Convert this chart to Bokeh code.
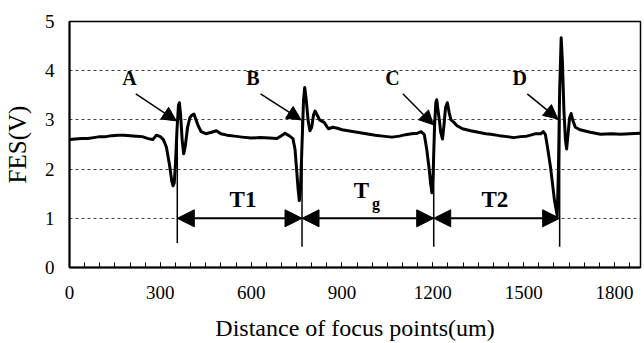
from bokeh.plotting import figure
from bokeh.models import Range1d, FixedTicker, Arrow, NormalHead
from bokeh.core.properties import value
from bokeh.embed import file_html
from bokeh.resources import INLINE

# FES signal (distance in um, voltage in V)
dist = [0, 20, 40, 60, 80, 100, 120, 140, 160, 180, 200, 220, 240, 260, 275, 287, 300, 310,
        320, 330, 338, 342, 346, 350, 355, 360, 363, 367, 372, 377, 382, 390, 398, 405, 411,
        418, 425, 435, 450, 470, 485, 500, 520, 545, 570, 600, 630, 660, 685, 700, 712, 725,
        738, 745, 750, 755, 759, 763, 768, 773, 777, 782, 788, 794, 800, 806, 811, 818, 826,
        841, 855, 870, 885, 900, 920, 950, 980, 1010, 1035, 1065, 1090, 1110, 1130, 1150, 1162,
        1172, 1180, 1188, 1193, 1197, 1201, 1206, 1210, 1213, 1217, 1222, 1226, 1232, 1237,
        1242, 1248, 1254, 1260, 1268, 1280, 1298, 1325, 1350, 1375, 1391, 1420, 1445, 1467,
        1490, 1510, 1523, 1540, 1556, 1565, 1572, 1580, 1589, 1602, 1611, 1615, 1619, 1624,
        1628, 1633, 1638, 1642, 1648, 1652, 1657, 1662, 1671, 1686, 1720, 1754, 1790, 1820,
        1850, 1886]
fes = [2.60, 2.61, 2.62, 2.62, 2.64, 2.66, 2.66, 2.68, 2.69, 2.69, 2.68, 2.67, 2.66, 2.62, 2.60,
       2.69, 2.66, 2.60, 2.45, 2.10, 1.75, 1.66, 1.72, 2.10, 2.80, 3.30, 3.35, 3.10, 2.60, 2.31,
       2.45, 2.85, 3.05, 3.10, 3.12, 3.00, 2.88, 2.76, 2.72, 2.75, 2.78, 2.72, 2.69, 2.67, 2.65,
       2.63, 2.64, 2.63, 2.62, 2.68, 2.73, 2.68, 2.62, 2.40, 2.00, 1.60, 1.36, 1.60, 2.50, 3.40,
       3.66, 3.40, 3.00, 2.78, 2.85, 3.10, 3.18, 3.10, 3.00, 2.95, 2.82, 2.85, 2.83, 2.80, 2.78,
       2.75, 2.72, 2.69, 2.67, 2.65, 2.67, 2.70, 2.72, 2.73, 2.76, 2.70, 2.40, 2.00, 1.70, 1.52,
       1.90, 2.90, 3.35, 3.41, 3.20, 2.98, 2.75, 2.61, 2.90, 3.25, 3.35, 3.15, 3.00, 2.96, 2.88,
       2.82, 2.78, 2.75, 2.72, 2.71, 2.68, 2.66, 2.64, 2.66, 2.67, 2.69, 2.72, 2.72, 2.76, 2.70,
       2.40, 2.03, 1.36, 1.05, 2.00, 3.60, 4.67, 4.20, 3.20, 2.60, 2.41, 2.80, 3.05, 3.13, 3.00,
       2.85, 2.80, 2.75, 2.71, 2.72, 2.71, 2.72, 2.73]

# event markers A-D
marker_names = ["A", "B", "C", "D"]
marker_x = [356, 768, 1203, 1619]
marker_bottom = [0.50, 0.42, 0.42, 0.42]
marker_top = [3.0, 3.0, 3.0, 3.0]
name_x = [198, 606, 1067, 1487]
name_y = [3.86, 3.86, 3.86, 3.86]
pointer_from_x = [219, 631, 1101, 1512]
pointer_from_y = [3.53, 3.53, 3.53, 3.53]
pointer_to_x = [353, 765, 1202, 1613]
pointer_to_y = [2.98, 3.0, 2.9, 3.02]

# interval labels
interval_y = 1.0
t_labels = ["T1", "T", "T2"]
t_x = [573, 964, 1405]
t_y = [1.39, 1.56, 1.38]
sub_label = ["g"]
sub_x = [1012]
sub_y = [1.31]

x_ticks = [0, 300, 600, 900, 1200, 1500, 1800]
y_ticks = [0, 1, 2, 3, 4, 5]

FONT = "Liberation Serif"

p = figure(width=644, height=343, output_backend="svg", toolbar_location=None,
           x_range=Range1d(0, 1886), y_range=Range1d(0, 5),
           min_border_left=68, min_border_right=4, min_border_top=21, min_border_bottom=76)
p.background_fill_color = "white"
p.border_fill_color = "white"
p.outline_line_color = "black"
p.outline_line_width = 1.5

p.xaxis.ticker = FixedTicker(ticks=x_ticks, minor_ticks=list(range(0, 1900, 50)))
p.yaxis.ticker = FixedTicker(ticks=y_ticks)
p.xgrid.visible = False
p.ygrid.grid_line_color = "#444444"
p.ygrid.grid_line_dash = "3 3"
p.ygrid.grid_line_width = 1

for ax in (p.xaxis[0], p.yaxis[0]):
    ax.axis_line_color = "black"
    ax.axis_line_width = 2
    ax.major_label_text_font = FONT
    ax.major_label_text_font_size = "19px"
    ax.major_label_text_color = "black"
    ax.axis_label_text_font = FONT
    ax.axis_label_text_font_style = "normal"
    ax.axis_label_text_color = "black"

p.xaxis.major_tick_in = 5
p.xaxis.major_tick_out = 0
p.xaxis.minor_tick_in = 5
p.xaxis.minor_tick_out = 0
p.xaxis.major_tick_line_color = "black"
p.xaxis.minor_tick_line_color = "black"
p.xaxis.major_label_standoff = 18
p.xaxis.axis_label = "Distance of focus points(um)"
p.xaxis.axis_label_text_font_size = "24px"
p.xaxis.axis_label_standoff = 13

p.yaxis.major_tick_in = 0
p.yaxis.major_tick_out = 0
p.yaxis.minor_tick_line_color = None
p.yaxis.major_label_standoff = 15
p.yaxis.axis_label = "FES(V)"
p.yaxis.axis_label_text_font_size = "25px"
p.yaxis.axis_label_standoff = 11

# signal
p.line(dist, fes, line_color="black", line_width=3, line_join="round")

# vertical marker lines
p.segment(x0=marker_x, y0=marker_bottom, x1=marker_x, y1=marker_top,
          line_color="black", line_width=1.5)

# pointer arrows
for x0, y0, x1, y1 in zip(pointer_from_x, pointer_from_y, pointer_to_x, pointer_to_y):
    p.add_layout(Arrow(end=NormalHead(size=14, fill_color="black", line_color="black"),
                       x_start=x0, y_start=y0, x_end=x1, y_end=y1,
                       line_color="black", line_width=1.5))

# interval double arrows
for a, b in zip(marker_x[:-1], marker_x[1:]):
    p.add_layout(Arrow(start=NormalHead(size=17, fill_color="black", line_color="black"),
                       end=NormalHead(size=17, fill_color="black", line_color="black"),
                       x_start=a, y_start=interval_y, x_end=b, y_end=interval_y,
                       line_color="black", line_width=2))

p.text(x=name_x, y=name_y, text=marker_names, text_font=value(FONT), text_font_style="bold",
       text_font_size="20px", text_align="center", text_baseline="middle", text_color="black")
p.text(x=t_x, y=t_y, text=t_labels, text_font=value(FONT), text_font_style="bold",
       text_font_size="23px", text_align="center", text_baseline="middle", text_color="black")
p.text(x=sub_x, y=sub_y, text=sub_label, text_font=value(FONT), text_font_style="bold",
       text_font_size="16px", text_align="center", text_baseline="middle", text_color="black")

open("out.html", "w").write(file_html(p, INLINE))
